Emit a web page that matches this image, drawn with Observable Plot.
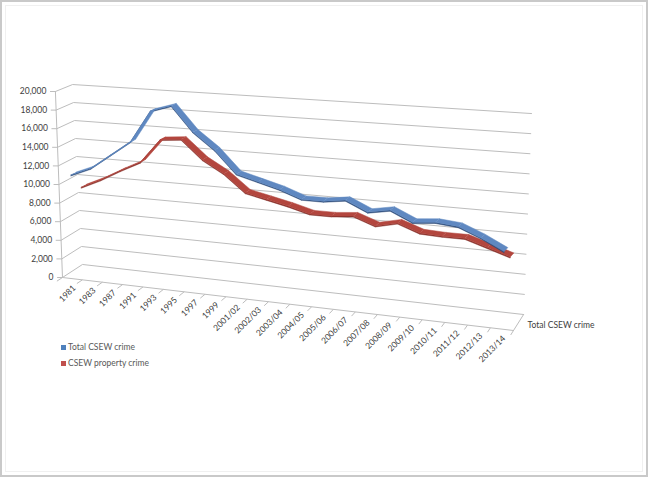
<!DOCTYPE html>
<html>
<head>
<meta charset="utf-8">
<script src="https://cdn.jsdelivr.net/npm/d3@7"></script>
<script src="https://cdn.jsdelivr.net/npm/@observablehq/plot@0.6"></script>
<style>
  html, body { margin: 0; padding: 0; background: #fff; }
  #wrap { position: relative; width: 648px; height: 477px; background: #fff; overflow: hidden; font-family: Lato, "Open Sans", sans-serif; }
  #chart { position: absolute; left: 0; top: 0; }
  #legend { position: absolute; left: 61px; top: 339px; font-size: 8.5px; color: #595959; }
  #legend .item { height: 16px; line-height: 16px; white-space: nowrap; }
  #legend .sw { display: inline-block; width: 5px; height: 5px; margin-right: 2px; vertical-align: 0px; }
  .frame1 { position: absolute; inset: 0; border: 2px solid #c9c9c9; pointer-events: none; }
  .frame2 { position: absolute; inset: 5px; border: 1px solid #f0f0f0; pointer-events: none; }
</style>
</head>
<body>
<div id="wrap">
  <div id="chart"></div>
  <div id="legend"></div>
  <div class="frame1"></div>
  <div class="frame2"></div>
</div>
<script>
// ---------------- data ----------------
const categories = ["1981","1983","1987","1991","1993","1995","1997","1999","2001/02","2002/03","2003/04","2004/05","2005/06","2006/07","2007/08","2008/09","2009/10","2010/11","2011/12","2012/13","2013/14"];
const totalCrime = [11000,11900,13500,15100,18500,19200,16600,14900,12600,12000,11400,10600,10600,10900,9900,10300,9300,9500,9300,8400,7300];
const propertyCrime = [9100,10100,11300,12400,15000,15200,13200,11900,10100,9600,9100,8500,8500,8700,7900,8400,7600,7500,7500,6800,6100];
const yTicks = [0,2000,4000,6000,8000,10000,12000,14000,16000,18000,20000];
const seriesNames = ["Total CSEW crime","CSEW property crime"];
const depthLabel = "Total CSEW crime";

// ---------------- pseudo-3D view (in scale units: x = category index, y = value) ----------------
const N = categories.length;
const VMAX = 20000;
const VIEW = {
  FLB:[0,0],        FLT:[-0.33,20000],
  BLB:[0.93,1400],  BLT:[0.47,20750],
  FRB:[21.0,-5700], FRT:[21.1,16770],
  BRB:[21.47,-3980], BRT:[21.84,17630]
};
const lerp = (a,b,s) => a + (b - a) * s;
function P(k, d, v) {
  const t = k / N;
  const tw = 0.922 * t + 0.078 * t * t;
  const h = v / VMAX;
  const out = [0,0];
  for (let j = 0; j < 2; j++) {
    const L = lerp(lerp(VIEW.FLB[j], VIEW.FLT[j], h), lerp(VIEW.BLB[j], VIEW.BLT[j], h), d);
    const R = lerp(lerp(VIEW.FRB[j], VIEW.FRT[j], h), lerp(VIEW.BRB[j], VIEW.BRT[j], h), d);
    out[j] = lerp(L, R, tw);
  }
  return {u: out[0], w: out[1]};
}

// gridlines: left wall + back wall
const gridRows = [];
for (const v of yTicks) {
  for (const [k,d] of [[0,0],[0,1],[N,1]]) gridRows.push({v, ...P(k,d,v)});
}
// floor front edge & right edge, y axis
const frameRows = [];
frameRows.push({z:"front", ...P(0,0,0)}, {z:"front", ...P(N,0,0)});
frameRows.push({z:"right", ...P(N,0,0)}, {z:"right", ...P(N,1,0)});
frameRows.push({z:"yaxis", ...P(0,0,0)}, {z:"yaxis", ...P(0,0,VMAX)});

// category ticks on the front edge
const catTicks = d3.range(N + 1).map(k => ({a: P(k,0,0), b: P(k,-0.28,0)}));

// ribbons
const EPS = 110;
function ribbon(values, d0, d1, name) {
  const top = [], side = [];
  for (let i = 0; i < values.length - 1; i++) {
    const k0 = i + 0.5, k1 = i + 1.5, v0 = values[i], v1 = values[i+1];
    const id = name + i;
    [P(k0,d0,v0), P(k1,d0,v1), P(k1,d1,v1), P(k0,d1,v0)].forEach(p => top.push({id, ...p}));
    [P(k0,d0,v0), P(k1,d0,v1), P(k1,d0,v1-EPS), P(k0,d0,v0-EPS)].forEach(p => side.push({id, ...p}));
  }
  return {top, side};
}
const redR = ribbon(propertyCrime, 0.64, 0.94, "r");
const blueR = ribbon(totalCrime, 0.12, 0.42, "b");

const BLUE_TOP = "#5f88c1", BLUE_SIDE = "#2f4d7a";
const RED_TOP = "#b3463e", RED_SIDE = "#86302a";
const GRID = "#bdbdbd", TEXT = "#404040";

const chart = Plot.plot({
  width: 648,
  height: 345,
  marginLeft: 62,
  marginRight: 135,
  marginTop: 91,
  marginBottom: 68,
  x: {domain: [0, N], axis: null},
  y: {domain: [0, VMAX], axis: null},
  style: {fontFamily: "Lato, 'Open Sans', sans-serif", fontSize: "8.5px", background: "transparent", overflow: "visible"},
  marks: [
    Plot.line(gridRows, {x: "u", y: "w", z: "v", stroke: GRID, strokeWidth: 1}),
    Plot.line(frameRows, {x: "u", y: "w", z: "z", stroke: GRID, strokeWidth: 1}),
    Plot.link(yTicks, {x1: v => P(0,0,v).u, y1: v => P(0,0,v).w, x2: v => P(0,0,v).u - 0.25, y2: v => P(0,0,v).w, stroke: GRID}),
    Plot.link(catTicks, {x1: d => d.a.u, y1: d => d.a.w, x2: d => d.b.u, y2: d => d.b.w, stroke: GRID}),
    Plot.text(yTicks, {x: v => P(0,0,v).u, y: v => P(0,0,v).w, text: d3.format(","), dx: -9, textAnchor: "end", fill: TEXT}),
    Plot.text(categories, {x: (c,i) => P(i+0.5,0,0).u, y: (c,i) => P(i+0.5,0,0).w, text: d => d, rotate: -45, textAnchor: "end", dx: 2, dy: 8, fill: TEXT}),
    Plot.text([depthLabel], {x: () => P(N,0.5,0).u, y: () => P(N,0.5,0).w, text: d => d, dx: 9, dy: 3, textAnchor: "start", fill: TEXT}),
    Plot.line(redR.side, {x: "u", y: "w", z: "id", fill: RED_SIDE, stroke: RED_SIDE, strokeWidth: 0.5}),
    Plot.line(redR.top, {x: "u", y: "w", z: "id", fill: RED_TOP, stroke: RED_TOP, strokeWidth: 0.5}),
    Plot.line(blueR.side, {x: "u", y: "w", z: "id", fill: BLUE_SIDE, stroke: BLUE_SIDE, strokeWidth: 0.5}),
    Plot.line(blueR.top, {x: "u", y: "w", z: "id", fill: BLUE_TOP, stroke: BLUE_TOP, strokeWidth: 0.5})
  ]
});
document.getElementById("chart").appendChild(chart);

// legend
const legendColors = ["#4f81bd", "#c0504d"];
const legend = document.getElementById("legend");
seriesNames.forEach((name, i) => {
  const row = document.createElement("div");
  row.className = "item";
  const sw = document.createElement("span");
  sw.className = "sw";
  sw.style.background = legendColors[i];
  row.appendChild(sw);
  row.appendChild(document.createTextNode(name));
  legend.appendChild(row);
});
</script>
</body>
</html>
